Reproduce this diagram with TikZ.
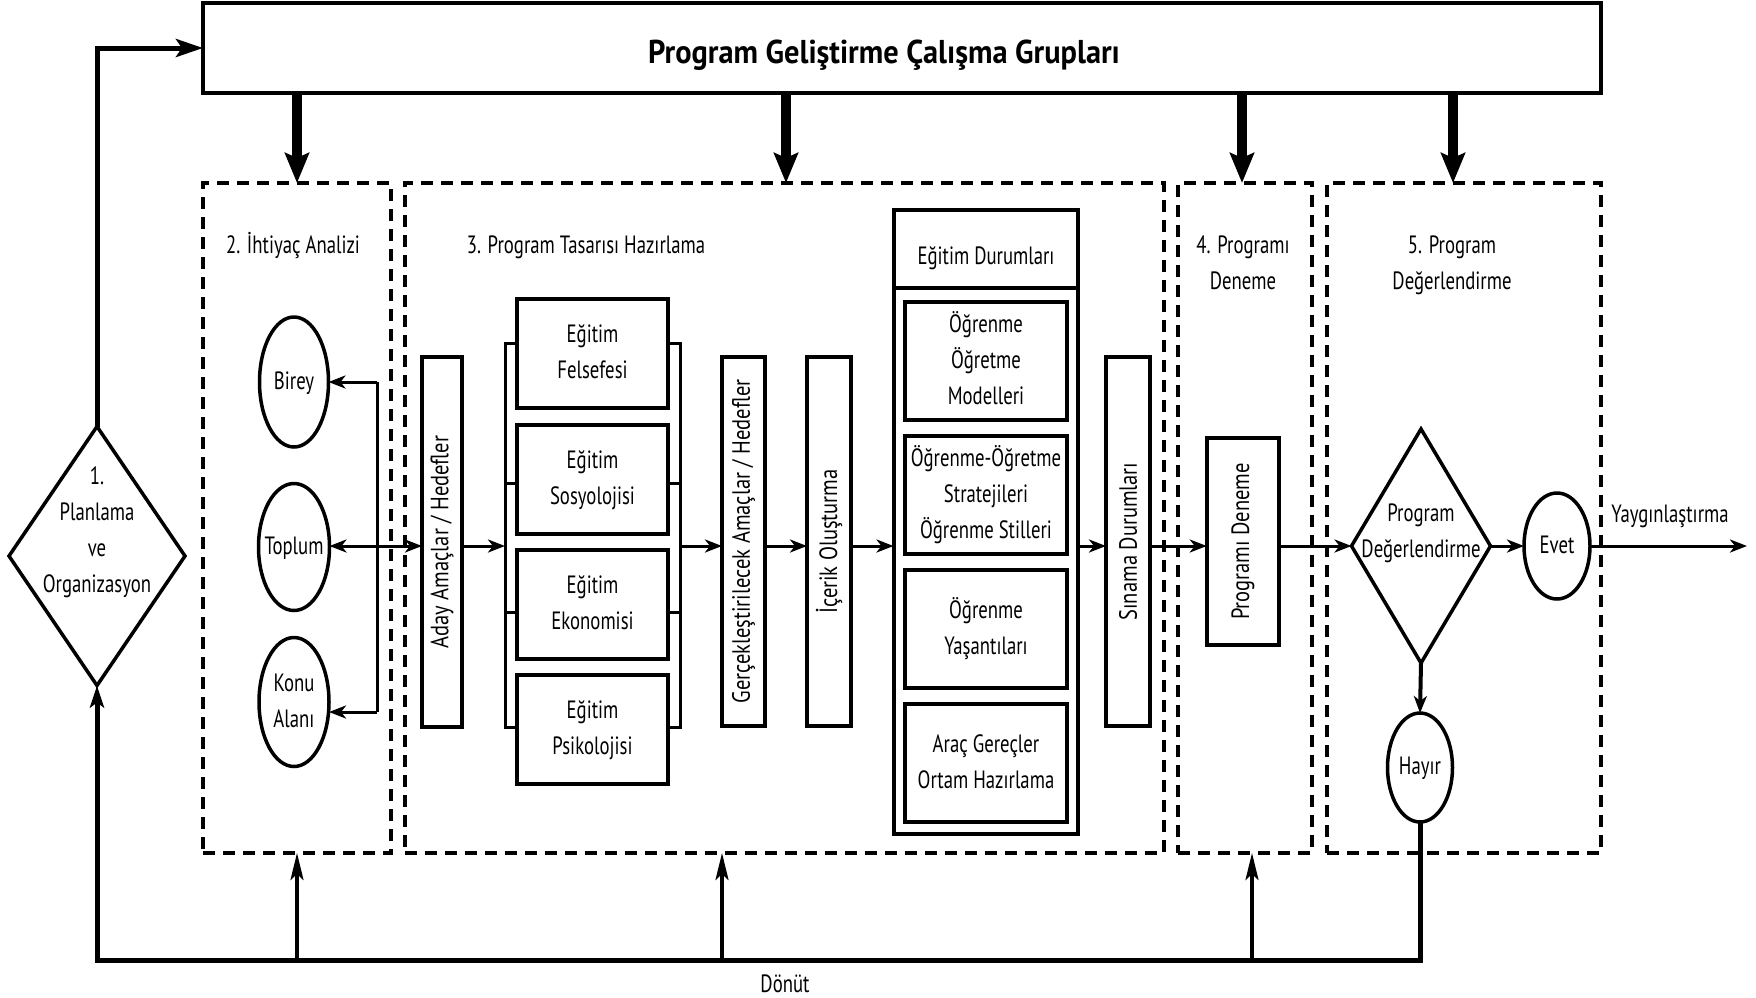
\documentclass[tikz,border=0pt]{standalone}
\usepackage{fontspec}
\usepackage{graphicx}
\setmainfont{PT Sans}[FakeStretch=0.75]
\newfontfamily\headfont{PT Sans}[FakeStretch=0.92]
\newfontfamily\sidefont{PT Sans}[FakeStretch=0.82]
\usetikzlibrary{arrows.meta,shapes.geometric}
% centred stack of lines that takes no width of its own
\newcommand{\zw}[1]{\makebox[0pt]{\begin{tabular}{@{}c@{}}#1\end{tabular}}}
% text set upright along a tall box
\newcommand{\side}[1]{\rotatebox{90}{\sidefont #1}}
\begin{document}
\begin{tikzpicture}[x=1pt, y=-1pt,
  every node/.style={font=\fontsize{25}{36}\selectfont, inner sep=0pt, outer sep=0pt},
  sbox/.style={draw, rectangle, line width=4pt},
  dbox/.style={draw, rectangle, line width=4pt, dash pattern=on 12pt off 8pt},
  ell/.style={draw, ellipse, line width=3.5pt},
  dia/.style={draw, diamond, line width=3.5pt},
  link/.style={line width=3pt},
  tip/.tip={Stealth[length=17pt, width=13pt, inset=5pt]},
  arr/.style={line width=3pt, -tip},
  heavy/.style={line width=10pt, -{Stealth[length=30pt, width=24pt, inset=5pt]}},
  fb/.style={line width=5pt},
  fbarr/.style={line width=3.5pt, -{Stealth[length=27pt, width=13pt, inset=6pt]}},
]
\fill[white] (0,0) rectangle (1756,997);
\useasboundingbox (0,0) rectangle (1756,997);

% working groups
\node[sbox, minimum width=1398pt, minimum height=90pt] (top) at (902,48) {};
\node[font=\fontsize{33}{36}\headfont\bfseries] (title) at (884,56) {\zw{Program Geliştirme Çalışma Grupları}};

% stage frames
\node[dbox, minimum width=188pt, minimum height=670pt] (s2) at (297,518) {};
\node[dbox, minimum width=759pt, minimum height=670pt] (s3) at (784.5,518) {};
\node[dbox, minimum width=134pt, minimum height=670pt] (s4) at (1245,518) {};
\node[dbox, minimum width=274pt, minimum height=670pt] (s5) at (1464,518) {};

\node (h2) at (293,246) {\zw{2. İhtiyaç Analizi}};
\node (h3) at (586,246) {\zw{3. Program Tasarısı Hazırlama}};
\node (h4) at (1243,264) {\zw{4. Programı\\Deneme}};
\node (h5) at (1452,264) {\zw{5. Program\\Değerlendirme}};

% heavy arrows from the working groups
\coordinate (a2) at (297,0);
\coordinate (a3) at (786,0);
\coordinate (a4) at (1242,0);
\coordinate (a5) at (1453,0);
\draw[heavy] (a2 |- top.south) -- (a2 |- s2.north);
\draw[heavy] (a3 |- top.south) -- (a3 |- s3.north);
\draw[heavy] (a4 |- top.south) -- (a4 |- s4.north);
\draw[heavy] (a5 |- top.south) -- (a5 |- s5.north);

% 1. planning
\node[dia, minimum width=176pt, minimum height=259pt] (d1) at (97,556) {};
\node (d1t) at (97,531) {\zw{1.\\Planlama\\ve\\Organizasyon}};
\draw[fb, -{Stealth[length=27pt, width=18pt, inset=6pt]}] (d1.north) |- (top.west);

% 2. needs analysis
\node[ell, minimum width=69pt, minimum height=130pt] (birey) at (294,382) {\zw{Birey}};
\node[ell, minimum width=71pt, minimum height=127pt] (toplum) at (294,547) {\zw{Toplum}};
\node[ell, minimum width=70pt, minimum height=129pt] (konu) at (294,702) {\zw{Konu\\Alanı}};
\coordinate (vb1) at (377,382);
\coordinate (vb2) at (377,712);
\draw[link] (vb1) -- (vb2);
\draw[arr] (vb1) -- (birey.east);
\draw[arr] (vb2) -- (konu.east |- vb2);

% 3. design
\coordinate (flow) at (0,546);
\node[sbox, minimum width=40pt, minimum height=370pt] (aday) at (442,542) {\side{Aday Amaçlar / Hedefler}};
\draw[line width=3pt, tip-tip] (toplum.east |- flow) -- (aday.west |- flow);

\node[sbox, minimum width=151pt, minimum height=109pt] (fel) at (592.5,353.5) {\zw{Eğitim\\Felsefesi}};
\node[sbox, minimum width=151pt, minimum height=109pt] (sos) at (592.5,479) {\zw{Eğitim\\Sosyolojisi}};
\node[sbox, minimum width=151pt, minimum height=109pt] (eko) at (592.5,604.5) {\zw{Eğitim\\Ekonomisi}};
\node[sbox, minimum width=151pt, minimum height=109pt] (psi) at (592.5,729.5) {\zw{Eğitim\\Psikolojisi}};
\coordinate (bl) at (505,0);
\coordinate (br) at (680,0);
\draw[link] (fel.west |- 0,343) -- (bl |- 0,343) -- (bl |- 0,727) -- (psi.west |- 0,727);
\draw[link] (sos.west |- 0,483) -- (bl |- 0,483);
\draw[link] (eko.west |- 0,612) -- (bl |- 0,612);
\draw[link] (fel.east |- 0,343) -- (br |- 0,343) -- (br |- 0,727) -- (psi.east |- 0,727);
\draw[link] (sos.east |- 0,483) -- (br |- 0,483);
\draw[link] (eko.east |- 0,612) -- (br |- 0,612);
\draw[arr] (aday.east |- flow) -- (bl |- flow);

\node[sbox, minimum width=43pt, minimum height=369pt] (gerc) at (743.5,541.5) {\side{Gerçekleştirilecek Amaçlar / Hedefler}};
\node[sbox, minimum width=44pt, minimum height=369pt] (icerik) at (829,541.5) {\side{İçerik Oluşturma}};
\draw[arr] (br |- flow) -- (gerc.west |- flow);
\draw[arr] (gerc.east |- flow) -- (icerik.west |- flow);

\node[sbox, minimum width=184.5pt, minimum height=624pt] (ed) at (985.75,522) {};
\node (edh) at (986,257) {\zw{Eğitim Durumları}};
\draw[line width=4pt] (ed.west |- 0,287.5) -- (ed.east |- 0,287.5);
\node[sbox, minimum width=162pt, minimum height=118pt] (ogm) at (986,361) {\zw{Öğrenme\\Öğretme\\Modelleri}};
\node[sbox, minimum width=162pt, minimum height=118pt] (ogs) at (986,495) {\zw{Öğrenme-Öğretme\\Stratejileri\\Öğrenme Stilleri}};
\node[sbox, minimum width=162pt, minimum height=118pt] (oya) at (986,629) {\zw{Öğrenme\\Yaşantıları}};
\node[sbox, minimum width=162pt, minimum height=118pt] (arac) at (986,763) {\zw{Araç Gereçler\\Ortam Hazırlama}};
\draw[arr] (icerik.east |- flow) -- (ed.west |- flow);

\node[sbox, minimum width=44pt, minimum height=369pt] (sinama) at (1128,541.5) {\side{Sınama Durumları}};
\draw[arr] (ed.east |- flow) -- (sinama.west |- flow);

% 4. trial
\node[sbox, minimum width=72.5pt, minimum height=207pt] (deneme) at (1243,541.5) {\side{Programı Deneme}};
\draw[arr] (sinama.east |- flow) -- (deneme.west |- flow);

% 5. evaluation
\node[dia, minimum width=139pt, minimum height=234pt] (d2) at (1421,546) {};
\node (d2t) at (1421,532) {\zw{Program\\Değerlendirme}};
\node[ell, minimum width=66pt, minimum height=106pt] (evet) at (1557,546) {\zw{Evet}};
\node[ell, minimum width=65pt, minimum height=109pt] (hayir) at (1420,767.5) {\zw{Hayır}};
\coordinate (yend) at (1747,546);
\node (yay) at (1670,516) {Yaygınlaştırma};
\draw[arr] (deneme.east |- flow) -- (d2.west);
\draw[arr] (d2.east) -- (evet.west);
\draw[arr] (evet.east) -- (yend);
\draw[arr, line width=4pt] (d2.south) -- (hayir.north);

% feedback loop
\coordinate (fbl) at (97,960);
\draw[fb, -{Stealth[length=22pt, width=14pt, inset=5pt]}] (hayir.south) |- (fbl) -- (d1.south);
\coordinate (f2) at (297,960);
\coordinate (f3) at (722,960);
\coordinate (f4) at (1252,960);
\draw[fbarr] (f2) -- (f2 |- s2.south);
\draw[fbarr] (f3) -- (f3 |- s3.south);
\draw[fbarr] (f4) -- (f4 |- s4.south);
\node (fbtext) at (785,984) {Dönüt};
\end{tikzpicture}
\end{document}
